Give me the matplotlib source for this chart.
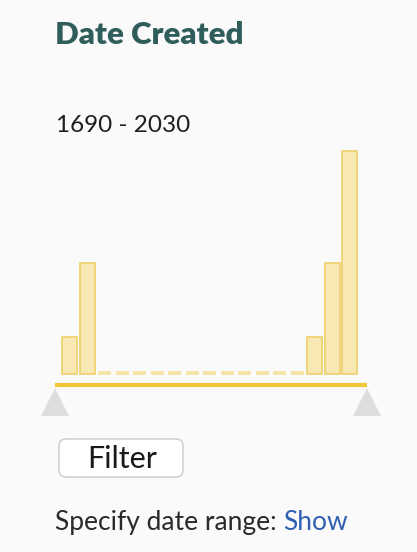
import matplotlib.pyplot as plt
from matplotlib.patches import FancyBboxPatch

# histogram of records per 20-year bin, 1690-2030
bin_start = [1690, 1710, 1730, 1750, 1770, 1790, 1810, 1830, 1850,
             1870, 1890, 1910, 1930, 1950, 1970, 1990, 2010]
counts = [1, 3, 0, 0, 0, 0, 0, 0, 0, 0, 0, 0, 0, 0, 1, 3, 6]
bin_width = 20
range_lo, range_hi = 1690, 2030

title = "Date Created"
range_label = f"{range_lo} - {range_hi}"
button_label = "Filter"
footer_label = "Specify date range: "
footer_link = "Show"

W, H = 417, 552
BG = "#fafafa"
FONT = ["Lato", "DejaVu Sans"]

fig = plt.figure(figsize=(W / 100, H / 100), dpi=100, facecolor=BG)


def frac(x, y, w, h):
    # pixel box (top-left origin) -> figure fraction
    return [x / W, 1 - (y + h) / H, w / W, h / H]


# canvas axes in pixel units for the UI bits
ui = fig.add_axes([0, 0, 1, 1])
ui.set_xlim(0, W)
ui.set_ylim(H, 0)
ui.axis("off")
ui.set_facecolor(BG)

ui.text(55, 44, title, fontsize=22.5, fontweight="heavy", color="#2f5d5b",
        family=FONT, va="baseline")
ui.text(56, 132, range_label, fontsize=17.5, color="#1e1e1e",
        family=FONT, va="baseline")

# histogram
ax = fig.add_axes(frac(62, 151, 297.5, 223))
ax.set_xlim(range_lo, range_hi)
ax.set_ylim(0, max(counts))
ax.axis("off")
nonzero = [(s, c) for s, c in zip(bin_start, counts) if c > 0]
ax.bar([s + 0.5 for s, _ in nonzero], [c for _, c in nonzero],
       width=bin_width * 0.84, align="edge", color="#f8e8b4",
       edgecolor="#f0d47a", linewidth=1.4, joinstyle="round", clip_on=False)
for s, c in zip(bin_start, counts):
    if c == 0:
        ax.hlines(0.03, s + 1.2, s + 1.2 + bin_width * 0.76,
                  color="#f6e3a8", linewidth=2.8, clip_on=False)

# slider track and thumbs
tr = fig.add_axes(frac(55, 380, 312, 40))
tr.set_xlim(range_lo, range_hi)
tr.set_ylim(420, 380)
tr.axis("off")
tr.plot([range_lo, range_hi], [385, 385], color="#f1c73a", linewidth=3,
        solid_capstyle="butt", clip_on=False)
tr.plot([range_lo, range_hi], [401.5, 401.5], linestyle="none", marker="^",
        markersize=19.5, color="#dedede", markeredgewidth=0, clip_on=False)

# Filter button
btn = FancyBboxPatch((59, 439), 124, 38, boxstyle="round,pad=0,rounding_size=7",
                     facecolor="white", edgecolor="#c9c9c9", linewidth=1.0)
ui.add_patch(btn)
ui.text(122, 468, button_label, fontsize=22, color="#1a1a1a",
        family=FONT, ha="center", va="baseline")

t = ui.text(55, 530, footer_label, fontsize=19, color="#2a2a2a",
            family=FONT, va="baseline")
fig.canvas.draw()
x_link = t.get_window_extent().x1  # display px == ui data px here
ui.text(x_link, 530, footer_link, fontsize=19, color="#2f5fb3",
        family=FONT, va="baseline")

fig.savefig("out.png", dpi=100, facecolor=BG)
